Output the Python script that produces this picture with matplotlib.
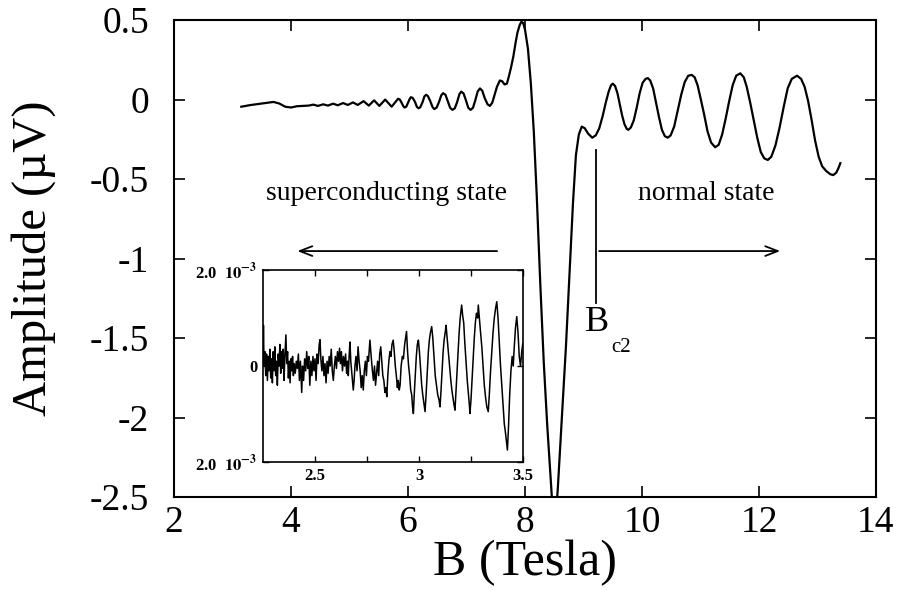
"""
Amplitude vs magnetic field, with inset of superconducting-state oscillations
"""

import numpy as np
import matplotlib
matplotlib.use("Agg")
import matplotlib.pyplot as plt

plt.rcParams['font.family'] = ['Liberation Serif', 'DejaVu Serif']
plt.rcParams['mathtext.fontset'] = 'stix'
plt.rcParams['axes.unicode_minus'] = False

# main curve, B (Tesla) and amplitude (uV)
field = [3.15, 3.30, 3.50, 3.70, 3.80, 3.90, 4.00, 4.10, 4.20,
         4.30, 4.38, 4.46, 4.55, 4.63, 4.72, 4.80, 4.89, 4.97, 5.06,
         5.14, 5.24, 5.33, 5.42, 5.51, 5.61, 5.72,
         5.83, 5.86, 5.89, 5.92, 5.94, 5.97, 6.00, 6.03, 6.05, 6.08,
         6.12, 6.15, 6.18, 6.21, 6.25, 6.28, 6.31, 6.34, 6.38, 6.42,
         6.45, 6.49, 6.53, 6.57, 6.60, 6.64, 6.68, 6.72, 6.76, 6.80,
         6.84, 6.88, 6.91, 6.95, 6.99, 7.03, 7.07, 7.11, 7.15, 7.19,
         7.23, 7.27, 7.31, 7.36, 7.40, 7.44, 7.48, 7.52, 7.57, 7.61,
         7.65, 7.69, 7.72, 7.76, 7.80, 7.84, 7.87, 7.91, 7.94, 7.97,
         8.00, 8.05, 8.10, 8.15, 8.20, 8.26, 8.32, 8.38, 8.45, 8.50,
         8.56, 8.63, 8.70, 8.76, 8.82, 8.87, 8.92,
         8.97, 9.02, 9.08, 9.15, 9.21, 9.27, 9.33, 9.38, 9.43, 9.47,
         9.50, 9.54, 9.58, 9.62, 9.66, 9.70, 9.74, 9.77, 9.81, 9.86,
         9.91, 9.96, 10.01, 10.06, 10.10, 10.14, 10.19, 10.24, 10.29, 10.34,
         10.39, 10.44, 10.49, 10.55, 10.61, 10.67, 10.73, 10.79, 10.85, 10.90,
         10.95, 11.00, 11.06, 11.12, 11.18, 11.25, 11.31, 11.37, 11.43, 11.49,
         11.55, 11.61, 11.68, 11.74, 11.79, 11.85, 11.91, 11.97, 12.03, 12.09,
         12.15, 12.21, 12.28, 12.35, 12.42, 12.49, 12.56, 12.65, 12.72, 12.78,
         12.84, 12.90, 12.96, 13.02, 13.08, 13.15, 13.22, 13.27, 13.32, 13.36,
         13.39]
amplitude = [-0.045, -0.035, -0.025, -0.015, -0.025, -0.045, -0.050, -0.042, -0.040,
             -0.038, -0.032, -0.040, -0.030, -0.038, -0.026, -0.036, -0.022, -0.034, -0.018,
             -0.034, -0.010, -0.038, -0.005, -0.040, 0.000, -0.045,
             0.005, 0.000, -0.020, -0.042, -0.050, -0.045, -0.020, 0.005, 0.015, 0.010,
             -0.015, -0.045, -0.055, -0.048, -0.015, 0.020, 0.030, 0.022, -0.010, -0.048,
             -0.060, -0.050, -0.015, 0.028, 0.040, 0.030, -0.010, -0.052, -0.065, -0.055,
             -0.015, 0.035, 0.050, 0.038, -0.005, -0.052, -0.065, -0.052, -0.005, 0.050,
             0.070, 0.055, 0.010, -0.030, -0.040, -0.020, 0.030, 0.080, 0.120, 0.115,
             0.095, 0.100, 0.140, 0.200, 0.270, 0.360, 0.420, 0.470, 0.490, 0.480,
             0.440, 0.320, 0.100, -0.200, -0.600, -1.150, -1.650, -2.050, -2.450, -2.750,
             -2.450, -2.000, -1.550, -1.100, -0.650, -0.350, -0.220,
             -0.170, -0.180, -0.215, -0.240, -0.225, -0.180, -0.100, -0.020, 0.050, 0.090,
             0.100, 0.085, 0.040, -0.030, -0.100, -0.155, -0.185, -0.190, -0.175, -0.130,
             -0.050, 0.040, 0.105, 0.130, 0.135, 0.120, 0.070, -0.020, -0.110, -0.190,
             -0.230, -0.240, -0.225, -0.170, -0.070, 0.030, 0.110, 0.150, 0.155, 0.140,
             0.090, 0.010, -0.090, -0.200, -0.270, -0.300, -0.285, -0.220, -0.120, -0.010,
             0.090, 0.150, 0.165, 0.140, 0.080, -0.020, -0.130, -0.240, -0.330, -0.370,
             -0.380, -0.360, -0.290, -0.180, -0.050, 0.070, 0.130, 0.150, 0.130, 0.080,
             -0.010, -0.130, -0.260, -0.360, -0.420, -0.450, -0.470, -0.475, -0.460, -0.430,
             -0.400]

# inset curve, amplitude in units of 1e-3
inset_x = [2.250, 2.252, 2.255, 2.259, 2.263, 2.267, 2.271, 2.275, 2.279, 2.283,
           2.287, 2.291, 2.295, 2.299, 2.303, 2.307, 2.311, 2.315, 2.319, 2.323,
           2.327, 2.331, 2.335, 2.339, 2.343, 2.347, 2.351, 2.355, 2.360, 2.364,
           2.368, 2.372, 2.376, 2.380, 2.384, 2.388, 2.392, 2.396, 2.400, 2.405,
           2.410, 2.415, 2.420, 2.425, 2.430, 2.436, 2.440, 2.445, 2.450, 2.455,
           2.460, 2.465, 2.470, 2.475, 2.480, 2.485, 2.490, 2.495, 2.500, 2.505,
           2.510, 2.515, 2.520, 2.524, 2.528, 2.533, 2.538, 2.543, 2.548, 2.553,
           2.558, 2.563, 2.568, 2.573, 2.578, 2.583, 2.588, 2.593, 2.598, 2.603,
           2.608, 2.613, 2.618, 2.622, 2.627, 2.632, 2.637, 2.642, 2.647, 2.652,
           2.656, 2.660, 2.664, 2.668, 2.672, 2.676, 2.680, 2.684, 2.688, 2.692,
           2.697, 2.702, 2.707, 2.712, 2.717, 2.722, 2.727, 2.732, 2.737, 2.742,
           2.747, 2.752, 2.757, 2.764, 2.770, 2.776, 2.781, 2.786, 2.791, 2.796,
           2.801, 2.806, 2.811, 2.816, 2.821, 2.826, 2.831, 2.836, 2.841, 2.845,
           2.850, 2.855, 2.860, 2.865, 2.870, 2.876, 2.881, 2.886, 2.891, 2.896,
           2.900, 2.905, 2.909, 2.914, 2.920, 2.925, 2.931, 2.936, 2.940, 2.945,
           2.950, 2.955, 2.960, 2.965, 2.969, 2.973, 2.977, 2.982, 2.987, 2.992,
           2.997, 3.002, 3.008, 3.013, 3.018, 3.024, 3.029, 3.034, 3.040, 3.045,
           3.050, 3.055, 3.061, 3.066, 3.072, 3.078, 3.084, 3.090, 3.096, 3.101,
           3.106, 3.111, 3.116, 3.121, 3.126, 3.130, 3.135, 3.141, 3.147, 3.153,
           3.158, 3.163, 3.168, 3.173, 3.178, 3.183, 3.188, 3.193, 3.198, 3.205,
           3.210, 3.215, 3.220, 3.226, 3.232, 3.238, 3.242, 3.245, 3.250, 3.256,
           3.261, 3.266, 3.271, 3.276, 3.282, 3.285, 3.290, 3.296, 3.302, 3.308,
           3.314, 3.320, 3.326, 3.333, 3.338, 3.344, 3.350, 3.356, 3.362, 3.368,
           3.374, 3.380, 3.386, 3.392, 3.398, 3.404, 3.410, 3.416, 3.421, 3.425,
           3.430, 3.436, 3.442, 3.448, 3.453, 3.458, 3.464, 3.470, 3.476, 3.482,
           3.488, 3.494, 3.499]
inset_y = [0.10, 0.85, 0.00, 0.30, -0.20, 0.25, -0.30, 0.20, -0.10, 0.35,
           -0.25, 0.15, -0.35, 0.30, -0.10, 0.40, -0.20, 0.10, -0.40, 0.25,
           0.00, 0.45, -0.15, 0.30, -0.05, 0.35, -0.30, 0.20, 0.65, 0.05,
           0.30, -0.25, 0.10, -0.35, 0.15, -0.10, 0.20, -0.20, 0.05, -0.15,
           0.10, -0.05, 0.25, -0.30, 0.10, -0.55, 0.00, -0.30, 0.15, -0.10,
           0.30, -0.05, 0.20, -0.40, 0.10, -0.20, 0.20, -0.10, 0.15, -0.30,
           0.25, 0.05, 0.45, 0.55, 0.15, -0.10, 0.20, -0.20, 0.05, -0.35,
           0.10, -0.15, 0.20, 0.00, 0.35, -0.10, -0.30, 0.00, 0.20, -0.05,
           0.30, 0.10, 0.37, 0.05, 0.30, -0.10, 0.20, 0.00, 0.25, -0.15,
           0.10, -0.20, 0.20, 0.50, 0.10, -0.10, -0.30, -0.50, -0.30, 0.00,
           0.20, -0.10, 0.40, 0.10, -0.10, -0.45, -0.20, -0.50, -0.10, 0.10,
           -0.20, 0.20, 0.10, 0.54, 0.20, -0.10, -0.30, 0.00, -0.40, -0.15,
           0.10, -0.20, 0.25, 0.40, 0.10, -0.20, -0.30, -0.55, -0.45, -0.64,
           -0.20, 0.10, 0.30, 0.20, 0.45, 0.54, 0.30, 0.00, -0.20, -0.45,
           -0.30, -0.50, -0.40, 0.00, 0.20, 0.15, 0.45, 0.60, 0.72, 0.30,
           0.00, -0.20, -0.50, -0.60, -0.85, -0.99, -0.60, -0.20, 0.20, 0.45,
           0.54, 0.30, -0.10, -0.40, -0.60, -0.80, -0.95, -0.60, -0.10, 0.30,
           0.55, 0.70, 0.82, 0.60, 0.20, -0.20, -0.40, -0.60, -0.70, -0.85,
           -0.50, -0.10, 0.30, 0.55, 0.70, 0.85, 0.60, 0.30, 0.00, -0.30,
           -0.50, -0.65, -0.80, -0.92, -0.50, -0.10, 0.30, 0.70, 1.00, 1.27,
           1.05, 0.90, 0.50, 0.10, -0.30, -0.60, -0.80, -0.99, -0.70, -0.20,
           0.20, 0.60, 0.90, 1.10, 1.00, 1.27, 1.00, 0.70, 0.40, 0.00,
           -0.40, -0.65, -0.85, -0.95, -0.60, -0.10, 0.30, 0.70, 1.00, 1.20,
           1.34, 1.00, 0.50, 0.00, -0.40, -0.80, -1.20, -1.40, -1.60, -1.75,
           -1.30, -0.60, -0.10, 0.20, 0.00, 0.40, 0.80, 1.03, 0.70, 0.20,
           0.00, 0.30, 0.47]

xticks = [2, 4, 6, 8, 10, 12, 14]
yticks = [0.5, 0, -0.5, -1, -1.5, -2, -2.5]
ytick_labels = ['0.5', '0', '-0.5', '-1', '-1.5', '-2', '-2.5']
inset_xticks = [2.5, 3.0, 3.5]
inset_xtick_labels = ['2.5', '3', '3.5']
inset_yticks = [-2.0, 0.0, 2.0]
inset_ytick_labels = [r'2.0  $\mathbf{10^{-3}}$', '0', r'2.0  $\mathbf{10^{-3}}$']

fig = plt.figure(figsize=(8.98, 5.90), dpi=100)
ax = fig.add_axes([0.1938, 0.1576, 0.7817, 0.8084])

ax.plot(field, amplitude, color='black', linewidth=1.6, solid_joinstyle='round')
ax.set_xlim(2, 14)
ax.set_ylim(-2.5, 0.5)
ax.set_xticks(xticks)
ax.set_xticklabels([str(t) for t in xticks])
ax.set_yticks(yticks)
ax.set_yticklabels(ytick_labels)
ax.tick_params(direction='in', length=8, width=1.2, top=True, right=True,
               labelsize=27)
ax.tick_params(axis='x', pad=6)
ax.tick_params(axis='y', pad=18)
for s in ax.spines.values():
    s.set_linewidth(1.5)
ax.set_xlabel('B (Tesla)', fontsize=36, labelpad=0)
ax.set_ylabel('Amplitude (\u00b5V)', fontsize=35, labelpad=24)

# annotations
ax.text(5.64, -0.59, 'superconducting state', fontsize=20, ha='center', va='center')
ax.text(11.09, -0.59, 'normal state', fontsize=20, ha='center', va='center')
arrow_style = dict(arrowstyle='->,head_length=0.9,head_width=0.35', color='black', lw=1.3)
ax.annotate('', xy=(4.06, -0.953), xytext=(7.57, -0.953), arrowprops=arrow_style)
ax.annotate('', xy=(12.41, -0.953), xytext=(9.22, -0.953), arrowprops=arrow_style)
ax.plot([9.22, 9.22], [-0.32, -1.28], color='black', linewidth=1.3)
ax.text(9.02, -1.40, 'B', fontsize=26, ha='left', va='center')
ax.text(9.48, -1.56, 'c2', fontsize=15, ha='left', va='center')

# inset
axin = fig.add_axes([0.2929, 0.2169, 0.2895, 0.3254])
axin.plot(inset_x, inset_y, color='black', linewidth=1.1)
axin.set_xlim(2.25, 3.5)
axin.set_ylim(-2.0, 2.0)
axin.set_xticks(inset_xticks)
axin.set_xticks([2.75, 3.25], minor=True)
axin.set_xticklabels(inset_xtick_labels, fontweight='bold')
axin.set_yticks(inset_yticks)
axin.set_yticklabels(inset_ytick_labels, fontweight='bold')
axin.tick_params(which='both', direction='in', length=4, width=1.0, top=True, right=True,
                 labelsize=12, pad=4)
for s in axin.spines.values():
    s.set_linewidth(1.2)

fig.savefig('out.png', dpi=100)
